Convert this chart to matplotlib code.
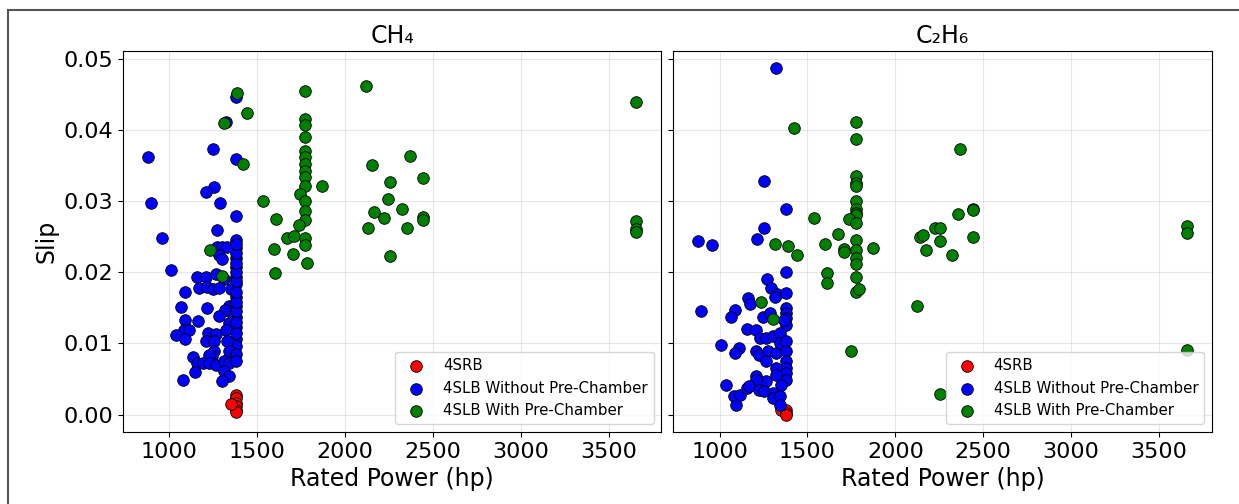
import matplotlib
matplotlib.use('Agg')

import matplotlib.pyplot as plt
from matplotlib.patches import Rectangle

# ---- CH4 ----
ch4_4srb_x = [1377, 1377, 1377, 1377, 1377, 1377, 1349]
ch4_4srb_y = [0.0028, 0.0023, 0.0017, 0.0012, 0.0006, 0.0003, 0.0015]

ch4_nopc_x = [877, 896, 957, 1009, 1251, 1377, 1324, 1377, 1255, 1211, 1287, 1377, 1274,
              1377, 1377, 1377, 1377, 1377, 1377,
              1274, 1302, 1330, 1283, 1300,
              1160, 1211, 1264, 1311,
              1168, 1215, 1249, 1283, 1349,
              1089, 1066, 1217,
              1377, 1377, 1377, 1377, 1377, 1377,
              1340, 1340, 1317,
              1283, 1162, 1089, 1340,
              1085, 1113, 1038, 1091, 1223, 1264, 1321,
              1211, 1255, 1330, 1340,
              1255, 1245, 1226,
              1132, 1160, 1189, 1226, 1264,
              1311, 1340, 1311, 1340, 1302,
              1147, 1079,
              1377, 1377, 1377, 1377, 1377, 1377, 1377, 1377, 1377, 1377, 1377, 1377]
ch4_nopc_y = [0.0362, 0.0298, 0.0249, 0.0204, 0.0373, 0.0447, 0.0411, 0.0359, 0.0320, 0.0313, 0.0298, 0.0279, 0.0259,
              0.0246, 0.0234, 0.0220, 0.0207, 0.0194, 0.0183,
              0.0236, 0.0236, 0.0236, 0.0224, 0.0219,
              0.0194, 0.0194, 0.0197, 0.0191,
              0.0178, 0.0180, 0.0176, 0.0178, 0.0176,
              0.0172, 0.0151, 0.0150,
              0.0165, 0.0152, 0.0137, 0.0123, 0.0107, 0.0096,
              0.0153, 0.0145, 0.0147,
              0.0139, 0.0131, 0.0133, 0.0129,
              0.0119, 0.0119, 0.0112, 0.0106, 0.0115, 0.0114, 0.0119,
              0.0103, 0.0103, 0.0103, 0.0089,
              0.0089, 0.0082, 0.0084,
              0.0081, 0.0073, 0.0073, 0.0072, 0.0070,
              0.0075, 0.0073, 0.0061, 0.0054, 0.0047,
              0.0060, 0.0049,
              0.0085, 0.0075, 0.0115, 0.0130, 0.0145, 0.0158, 0.0172, 0.0188, 0.0200, 0.0213, 0.0227, 0.0240]

ch4_pc_x = [1387, 1443, 1313, 1419, 1232, 1302,
            1770, 1770, 1770, 1770, 1770, 1770, 1770, 1770, 1770, 1770, 1745, 1868, 1770, 1770, 1770,
            1532, 1608, 1736, 1670, 1708, 1770, 1770, 1596, 1706, 1785, 1604,
            2117, 2151, 2257, 2242, 2166, 2221, 2132, 2253,
            2370, 2442, 2324, 2355, 2442, 2442,
            3658, 3658, 3658, 3658]
ch4_pc_y = [0.0452, 0.0424, 0.0410, 0.0353, 0.0231, 0.0195,
            0.0455, 0.0416, 0.0407, 0.0390, 0.0371, 0.0362, 0.0353, 0.0343, 0.0334, 0.0321, 0.0310, 0.0321, 0.0300, 0.0286, 0.0274,
            0.0300, 0.0275, 0.0266, 0.0248, 0.0251, 0.0249, 0.0239, 0.0233, 0.0226, 0.0213, 0.0199,
            0.0462, 0.0351, 0.0327, 0.0303, 0.0285, 0.0276, 0.0263, 0.0223,
            0.0363, 0.0332, 0.0289, 0.0263, 0.0278, 0.0274,
            0.0440, 0.0272, 0.0261, 0.0257]

# ---- C2H6 ----
c2h6_4srb_x = [1352, 1380, 1380, 1380]
c2h6_4srb_y = [0.0007, 0.0007, 0.0002, 0.0000]

c2h6_nopc_x = [1323, 1253, 1380, 1253, 1213, 876, 956, 1380, 1270, 1295, 1327, 1314, 1380, 1162, 1171,
               895, 1086, 1063, 1380, 1380, 1380, 1380, 1247, 1285, 1365,
               1158, 1205, 1228, 1266, 1304, 1342,
               1010, 1108, 1085, 1209, 1224, 1276, 1319, 1342, 1262,
               1380, 1380, 1380, 1380, 1380, 1380,
               1323, 1323, 1209, 1262, 1209, 1352, 1038, 1080, 1091, 1118, 1156, 1167,
               1224, 1251, 1304, 1304, 1342, 1342]
c2h6_nopc_y = [0.0487, 0.0328, 0.0289, 0.0262, 0.0247, 0.0244, 0.0239, 0.0200, 0.0191, 0.0178, 0.0169, 0.0166, 0.0171, 0.0164, 0.0155,
               0.0145, 0.0147, 0.0137, 0.0150, 0.0143, 0.0136, 0.0126, 0.0137, 0.0143, 0.0133,
               0.0120, 0.0119, 0.0108, 0.0108, 0.0110, 0.0115,
               0.0098, 0.0094, 0.0087, 0.0089, 0.0084, 0.0089, 0.0087, 0.0101, 0.0075,
               0.0103, 0.0089, 0.0075, 0.0066, 0.0059, 0.0048,
               0.0066, 0.0056, 0.0054, 0.0047, 0.0049, 0.0042, 0.0041, 0.0026, 0.0014, 0.0028, 0.0037, 0.0040,
               0.0034, 0.0033, 0.0031, 0.0023, 0.0026, 0.0014]

c2h6_pc_x = [1422, 1776, 1776, 1776, 1776, 1776, 1776, 1776, 1776, 1776, 1738, 1776, 1536, 1675, 1601,
             1314, 1390, 1443, 1709, 1709, 1776, 1776, 1776, 1776, 1874, 1612, 1612, 1776, 1776, 1791,
             1749, 1234, 1304,
             2122, 2141, 2160, 2173, 2226, 2255, 2255, 2368, 2355, 2444, 2444, 2254, 2444, 2325,
             3661, 3661, 3661]
c2h6_pc_y = [0.0403, 0.0411, 0.0387, 0.0336, 0.0325, 0.0322, 0.0301, 0.0289, 0.0284, 0.0281, 0.0275, 0.0269, 0.0277, 0.0254, 0.0240,
             0.0240, 0.0237, 0.0225, 0.0233, 0.0228, 0.0246, 0.0232, 0.0220, 0.0212, 0.0234, 0.0199, 0.0185, 0.0194, 0.0173, 0.0176,
             0.0090, 0.0159, 0.0134,
             0.0152, 0.0250, 0.0252, 0.0232, 0.0262, 0.0244, 0.0029, 0.0374, 0.0282, 0.0289, 0.0287, 0.0262, 0.0250, 0.0224,
             0.0265, 0.0255, 0.0091]

labels = ['4SRB', '4SLB Without Pre-Chamber', '4SLB With Pre-Chamber']
colors = ['red', 'blue', 'green']

panels = [
    ('CH\u2084', [(ch4_4srb_x, ch4_4srb_y), (ch4_nopc_x, ch4_nopc_y), (ch4_pc_x, ch4_pc_y)]),
    ('C\u2082H\u2086', [(c2h6_4srb_x, c2h6_4srb_y), (c2h6_nopc_x, c2h6_nopc_y), (c2h6_pc_x, c2h6_pc_y)]),
]

fig, axes = plt.subplots(1, 2, figsize=(12.39, 5.04), dpi=100, sharey=True, sharex=True)
fig.subplots_adjust(left=0.0993, right=0.978, top=0.899, bottom=0.143, wspace=0.022)

for ax, (title, groups) in zip(axes, panels):
    for (x, y), c, lab in zip(groups, colors, labels):
        ax.scatter(x, y, s=70, c=c, edgecolors='black', linewidths=0.6, label=lab, zorder=3)
    ax.set_title(title, fontsize=17)
    ax.set_xlabel('Rated Power (hp)', fontsize=17)
    ax.grid(True, alpha=0.3)
    ax.tick_params(labelsize=16)
    ax.legend(loc='lower right', fontsize=10.8)

axes[0].set_ylabel('Slip', fontsize=17)

# outer frame seen in the source image
fig.add_artist(Rectangle((8 / 1239, -0.1), 1.2, 1.1 - 10 / 504, transform=fig.transFigure,
                         fill=False, edgecolor='#555555', linewidth=1.5, clip_on=False))

plt.savefig('out.png', dpi=100)
plt.close()
